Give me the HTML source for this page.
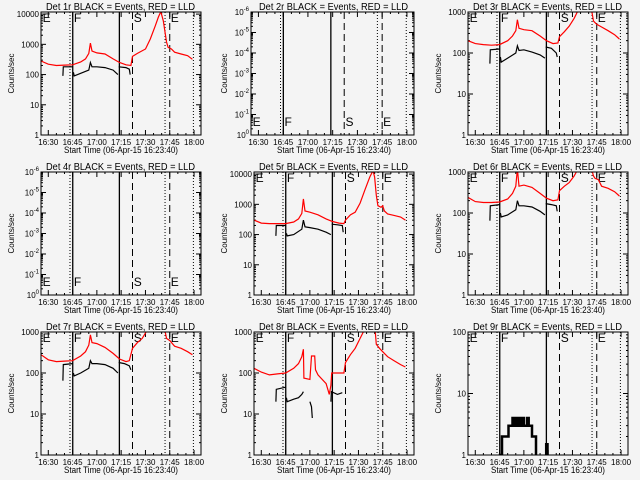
<!DOCTYPE html>
<html><head><meta charset="utf-8"><style>
html,body{margin:0;padding:0;background:#f4f4f4;}
svg{display:block;font-family:"Liberation Sans",sans-serif;}
</style></head><body>
<svg id="c" width="640" height="480" viewBox="0 0 640 480">
<rect width="640" height="480" fill="#f4f4f4"/>
</svg>
<script>
// ----- data (time in minutes after 16:00) -----
const xTickLabels = ["16:30","16:45","17:00","17:15","17:30","17:45","18:00"];
const xTickTimes = [30,45,60,75,90,105,120];
const markerTimes = [43.4,45.1,73.9,82,102.1,105,119.6];
const markerStyles = ["dot","solid","solid","dash","dot","dash","dot"];
const markerLabels = ["E","F","S","E"];
const markerLabelTimes = [26.5,45.8,82.8,105.6];

const p1RedT = [25.5,30,35,40,45,50,53,55,56,57,60,65,70,74,78,81,82,85,90,93,96,98,99.5,101,103,104,106,108,112,116,119];
const p1Red  = [280,220,200,205,210,260,330,500,1100,600,520,480,330,250,210,200,400,500,700,1500,4000,8000,12000,6000,1200,800,700,550,480,420,320];
const p1BlkT = [39,39.3,45,null,45.5,46,50,55,56,57,60,65,70,73,null,73.5,78,80,80.6];
const p1Blk  = [90,180,180,null,120,90,110,140,250,180,180,170,140,100,null,180,170,150,100];

const p3RedT = [25.5,30,35,40,45,50,53,55,56,57,60,65,70,74,78,81,82,85,88,91,93,95,100,102,103,105,108,112,116,119];
const p3Red  = [200,170,160,155,160,200,260,350,650,400,370,350,260,200,170,175,250,330,450,700,1000,1600,1600,1000,600,500,430,350,280,220];
const p3BlkT = [39,39.3,45,null,45.5,46,50,55,56,57,60,65,70,73,null,73.5,77,80,80.6];
const p3Blk  = [55,120,125,null,80,60,75,100,150,115,120,105,90,75,null,140,130,100,80];

const p5RedT = [25.5,30,35,40,45,50,53,55,56,57,60,65,70,74,78,81,82,85,88,91,94,97,99,100,101,102,104,105,106,108,112,116,119];
const p5Red  = [300,240,230,230,230,260,330,500,1500,600,550,450,330,270,240,230,300,450,550,1100,3000,8000,13000,8000,2000,900,800,900,600,480,430,380,300];
const p5BlkT = [39,39.3,45,null,45.5,46,50,55,56,57,60,65,70,73,null,73.5,77,80,80.6];
const p5Blk  = [90,200,200,null,110,90,100,150,300,180,170,150,120,100,null,220,210,200,120];

const p6RedT = [25.5,30,35,40,45,50,53,55,56,57,60,65,70,74,78,81,82,85,88,91,93,95,100,102,103,104,106,108,112,116,119];
const p6Red  = [240,190,180,180,185,220,300,450,1200,450,480,420,300,230,200,210,350,450,550,800,1100,1600,1600,1100,800,700,650,450,400,330,260];
const p6BlkT = [39,39.3,45,null,45.5,46,50,55,56,57,60,65,70,73,null,73.5,77,80,80.6];
const p6Blk  = [65,150,160,null,100,80,90,120,200,150,150,140,110,90,null,170,160,150,110];

const p7RedT = [25.5,30,35,40,45,50,53,55,56,57,60,65,70,74,78,80,82,85,88,91,93,100,102,103,105,108,112,116,119];
const p7Red  = [280,210,190,195,200,260,330,480,850,550,520,420,300,220,190,200,400,550,700,1100,1600,1600,1100,700,620,450,400,330,280];
const p7BlkT = [39,39.3,45,null,45.5,46,50,55,56,57,60,65,70,73,null,73.5,77,80,81];
const p7Blk  = [65,160,170,null,100,85,100,130,200,170,170,160,130,100,null,180,170,150,120];

const p8RedT = [25.5,30,35,40,45,50,53,55,56,56.3,60,61,63,63.5,65,70,72,73,73.5,78,81,82,85,88,91,93,95,100,101,103,105,108,112,116,119];
const p8Red  = [130,105,90,95,100,130,170,250,380,75,70,260,260,120,90,55,30,50,100,100,100,180,280,400,700,1000,1600,1600,500,400,330,250,200,160,140];
const p8BlkT = [39,39.3,45,null,45.5,46,50,53,55,56,null,60,61,61.5,null,73,73.3,77,80];
const p8Blk  = [20,40,45,null,25,20,23,25,30,35,null,20,15,8,null,20,35,30,33];

const p9BlkT = [44.5,46.5,46.5,50.5,50.5,53,53,54,54,55,55,56,56,57,57,58,58,59,59,60,60,62,62,63,63,65,65,67.5,67.5,null,73.8,73.8,74.6,74.6];
const p9Blk  = [1,1,2,2,3,3,4,4,3,3,4,4,3,3,4,4,3,3,4,4,3,3,4,4,3,3,2,2,1,null,1,1.5,1.5,1];

const panels = [
 {n:1,lo:0,hi:4.07,left:41,lab:"dec",bottomLbl:false,red:[p1RedT,p1Red],blk:[p1BlkT,p1Blk]},
 {n:2,lo:0,hi:6,left:38,lab:"exp",bottomLbl:true},
 {n:3,lo:0,hi:3,left:41,lab:"dec",bottomLbl:false,red:[p3RedT,p3Red],blk:[p3BlkT,p3Blk]},
 {n:4,lo:0,hi:6,left:41,lab:"exp",bottomLbl:true},
 {n:5,lo:0,hi:4.07,left:41,lab:"dec",bottomLbl:false,red:[p5RedT,p5Red],blk:[p5BlkT,p5Blk]},
 {n:6,lo:0,hi:3,left:41,lab:"dec",bottomLbl:false,red:[p6RedT,p6Red],blk:[p6BlkT,p6Blk]},
 {n:7,lo:0,hi:3,left:41,lab:"dec",bottomLbl:false,red:[p7RedT,p7Red],blk:[p7BlkT,p7Blk]},
 {n:8,lo:0,hi:3,left:41,lab:"dec",bottomLbl:false,red:[p8RedT,p8Red],blk:[p8BlkT,p8Blk]},
 {n:9,lo:0,hi:2,left:41,lab:"dec",bottomLbl:false,blk:[p9BlkT,p9Blk],thick:true}
];

const NS="http://www.w3.org/2000/svg";
const svg=document.getElementById('c');
const T0=25.5, T1=124.3;
function mk(tag,attrs,parent){const e=document.createElementNS(NS,tag);for(const k in attrs)e.setAttribute(k,attrs[k]);(parent||svg).appendChild(e);return e;}

panels.forEach((p,i)=>{
  const ox=Math.round((i%3)*640/3), oy=Math.floor(i/3)*160;
  const L=ox+p.left, R=ox+201, Tp=oy+12, B=oy+135;
  const g=mk('g',{});
  
  
  const xs=t=>L+(t-T0)*(R-L)/(T1-T0);
  const ys=v=>B-(Math.log10(v)-p.lo)*(B-Tp)/(p.hi-p.lo);
  const cp=mk('clipPath',{id:'cl'+i},g); mk('rect',{x:L,y:Tp,width:R-L,height:B-Tp},cp);
  const tt=mk('text',{x:ox+46,y:oy+10,'font-size':10,fill:'#000',textLength:149,lengthAdjust:'spacingAndGlyphs'},g);
  tt.textContent='Det '+p.n+'r BLACK = Events, RED = LLD';
  
  
  const yt=mk('text',{x:0,y:0,transform:`translate(${ox+14},${(Tp+B)/2}) rotate(-90)`,'text-anchor':'middle','font-size':8,fill:'#000'},g);
  yt.textContent='Counts/sec';
  
  
  const xt=mk('text',{x:ox+64,y:oy+153,'font-size':9,fill:'#000',textLength:114,lengthAdjust:'spacingAndGlyphs'},g);
  xt.textContent='Start Time (06-Apr-15 16:23:40)';
  
  
  xTickTimes.forEach((t,k)=>{
    const x=xs(t);
    mk('line',{x1:x,y1:B,x2:x,y2:B-5,stroke:'#000'},g);
    mk('line',{x1:x,y1:Tp,x2:x,y2:Tp+5,stroke:'#000'},g);
    const lb=mk('text',{x:x,y:B+10,'text-anchor':'middle','font-size':8,fill:'#000'},g);
    lb.textContent=xTickLabels[k];
    
    
  });
  for(let t=35;t<T1;t+=5){ if(t%15===0)continue; const x=xs(t);
    mk('line',{x1:x,y1:B,x2:x,y2:B-2,stroke:'#000'},g); mk('line',{x1:x,y1:Tp,x2:x,y2:Tp+2,stroke:'#000'},g);}
  for(let d=p.lo; d<=Math.floor(p.hi); d++){
    const y=B-(d-p.lo)*(B-Tp)/(p.hi-p.lo);
    mk('line',{x1:L,y1:y,x2:L+5,y2:y,stroke:'#000'},g);
    mk('line',{x1:R,y1:y,x2:R-5,y2:y,stroke:'#000'},g);
    const lb=mk('text',{x:L-2,y:y+3,'text-anchor':'end','font-size':8,fill:'#000'},g);
    if(p.lab==='dec') lb.textContent=String(Math.pow(10,d));
    else { lb.textContent='10'; const ts=mk('tspan',{dy:-4,'font-size':6},lb); ts.textContent=d===0?'0':'-'+d; }
    
    
    for(let m=2;m<10;m++){ const lv=d+Math.log10(m); if(lv>p.hi)break;
      const ym=B-(lv-p.lo)*(B-Tp)/(p.hi-p.lo);
      mk('line',{x1:L,y1:ym,x2:L+2,y2:ym,stroke:'#000'},g); mk('line',{x1:R,y1:ym,x2:R-2,y2:ym,stroke:'#000'},g);}
  }
  markerTimes.forEach((t,k)=>{
    const x=xs(t), st=markerStyles[k];
    const ln=mk('line',{x1:x,y1:Tp,x2:x,y2:B,stroke:'#000','stroke-width':st==='solid'?1.3:1,'stroke-dasharray':st==='dot'?'1,2':(st==='dash'?'7,4':'none')},g);
    
    
  });
  markerLabels.forEach((s,k)=>{
    const lb=mk('text',{x:xs(markerLabelTimes[k]),y:p.bottomLbl?B-9:Tp+10,'font-size':12,fill:'#000'},g);
    lb.textContent=s;
    
    
  });
  function path(ts,vs){let d='',pen=false;ts.forEach((t,k)=>{if(t===null||vs[k]===null){pen=false;return;}
    d+=(pen?'L':'M')+xs(t).toFixed(1)+','+ys(vs[k]).toFixed(1);pen=true;});return d;}
  if(p.red){const r=mk('path',{d:path(p.red[0],p.red[1]),fill:'none',stroke:'#ff0000','stroke-width':1.2,'clip-path':`url(#cl${i})`},g);
    
    }
  if(p.blk){const b=mk('path',{d:path(p.blk[0],p.blk[1]),fill:'none',stroke:'#000','stroke-width':p.thick?2.5:1.2,'clip-path':`url(#cl${i})`},g);
    
    }
  const bx=mk('rect',{x:L,y:Tp,width:R-L,height:B-Tp,fill:'none',stroke:'#000','stroke-width':1},g);
  
  
});
</script>
</body></html>
